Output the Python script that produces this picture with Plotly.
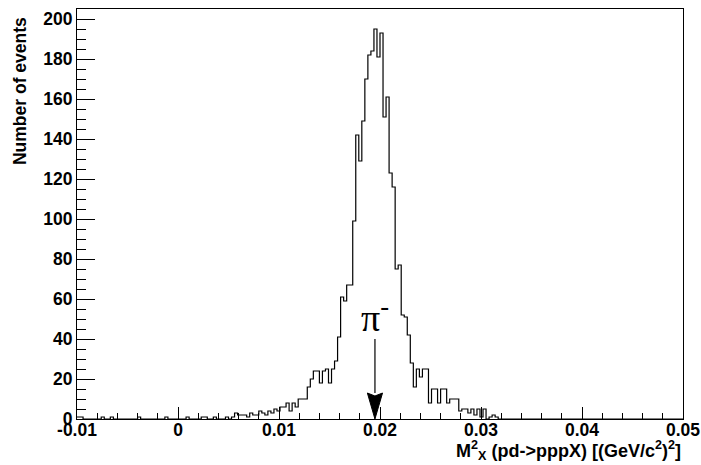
import plotly.graph_objects as go

# Histogram binning: 200 equal bins on [-0.01, 0.05] (GeV/c^2)^2
x_min, x_max, n_bins = -0.01, 0.05, 200

# Events per bin, 20 bins per row
counts = [
    1, 1, 0, 0, 0, 0, 0, 0, 1, 0, 0, 1, 0, 0, 0, 0, 0, 0, 0, 0,
    1, 0, 0, 0, 0, 0, 0, 0, 0, 1, 0, 0, 0, 0, 0, 0, 1, 0, 0, 0,
    0, 1, 1, 0, 0, 1, 0, 0, 0, 1, 0, 1, 3, 2, 2, 2, 1, 3, 2, 2,
    4, 3, 2, 4, 3, 5, 4, 6, 6, 8, 4, 8, 6, 10, 10, 10, 16, 20, 24, 24,
    18, 24, 25, 18, 25, 29, 41, 61, 59, 67, 67, 99, 142, 129, 149, 170, 182, 184, 195, 181,
    193, 151, 161, 123, 116, 75, 77, 52, 51, 42, 28, 16, 25, 21, 25, 25, 8, 15, 15, 8,
    15, 15, 8, 10, 10, 10, 4, 5, 5, 3, 5, 2, 5, 1, 5, 0, 1, 2, 1, 0,
    0, 0, 0, 0, 0, 0, 0, 0, 0, 0, 0, 0, 0, 0, 0, 0, 0, 0, 0, 0,
    0, 0, 0, 0, 0, 0, 0, 0, 0, 0, 0, 0, 0, 0, 0, 0, 0, 0, 0, 0,
    0, 0, 0, 0, 0, 0, 0, 0, 0, 0, 0, 0, 0, 0, 0, 0, 0, 0, 0, 0,
]

x_tick_values = [-0.01, 0.0, 0.01, 0.02, 0.03, 0.04, 0.05]
x_tick_labels = ["-0.01", "0", "0.01", "0.02", "0.03", "0.04", "0.05"]
y_tick_values = [0, 20, 40, 60, 80, 100, 120, 140, 160, 180, 200]
y_tick_labels = ["0", "20", "40", "60", "80", "100", "120", "140", "160", "180", "200"]

y_max = 205

# Expected pi- missing mass squared, (0.1396 GeV/c^2)^2
pi_mass_sq = 0.0195
pi_label = "\u03c0<sup>-</sup>"

x_title = "M<sup>2</sup><sub>X</sub> (pd-&gt;pppX) [(GeV/c<sup>2</sup>)<sup>2</sup>]"
y_title = "Number of events"

bin_width = (x_max - x_min) / n_bins
edges = [x_min + i * bin_width for i in range(n_bins + 1)]

font_family = "Liberation Sans, Arial, Helvetica, sans-serif"
label_font = dict(family=font_family, size=17.5, color="black", weight="bold")

fig = go.Figure()

# Step outline of the histogram
fig.add_trace(go.Scatter(
    x=edges,
    y=counts + [counts[-1]],
    mode="lines",
    line=dict(color="black", width=1.2, shape="hv"),
    hoverinfo="skip",
    showlegend=False,
))

# Arrow marking the pi- mass squared
arrow_top, head_base = 40, 13
head_half = 0.00075
fig.add_shape(type="line", xref="x", yref="y",
              x0=pi_mass_sq, x1=pi_mass_sq, y0=arrow_top, y1=head_base,
              line=dict(color="black", width=1.2))
fig.add_shape(type="path", xref="x", yref="y",
              path=(f"M {pi_mass_sq - head_half},{head_base} "
                    f"L {pi_mass_sq},{head_base - 1.5} "
                    f"L {pi_mass_sq + head_half},{head_base} "
                    f"L {pi_mass_sq},0 Z"),
              fillcolor="black", line=dict(color="black", width=1))

fig.add_annotation(
    x=pi_mass_sq, y=52, xref="x", yref="y",
    text=pi_label, showarrow=False,
    xanchor="center", yanchor="middle",
    font=dict(family="Liberation Serif, Times New Roman, serif", size=38, color="black"),
)

# Axis titles (ROOT style: right / top aligned)
fig.add_annotation(
    x=1.0, y=-0.078, xref="paper", yref="paper",
    text=x_title, showarrow=False, xanchor="right", yanchor="middle",
    font=dict(family=font_family, size=18, color="black", weight="bold"),
)
fig.add_annotation(
    x=-0.094, y=0.80, xref="paper", yref="paper",
    text=y_title, showarrow=False, xanchor="center", yanchor="middle",
    textangle=-90,
    font=dict(family=font_family, size=17.5, color="black", weight="bold"),
)

fig.update_xaxes(
    range=[x_min, x_max], automargin=False,
    tickmode="array", tickvals=x_tick_values, ticktext=x_tick_labels,
    ticks="inside", ticklen=12, tickwidth=1, tickcolor="black",
    ticklabelstandoff=-5,
    minor=dict(tickmode="linear", tick0=x_min, dtick=0.002,
               ticks="inside", ticklen=6, tickwidth=1, tickcolor="black",
               showgrid=False),
    showline=True, linecolor="black", linewidth=1, mirror=True,
    showgrid=False, zeroline=False,
    tickfont=label_font,
)
fig.update_yaxes(
    range=[0, y_max], automargin=False,
    tickmode="array", tickvals=y_tick_values, ticktext=y_tick_labels,
    ticks="inside", ticklen=18, tickwidth=1, tickcolor="black",
    minor=dict(tickmode="linear", tick0=0, dtick=5,
               ticks="inside", ticklen=9, tickwidth=1, tickcolor="black",
               showgrid=False),
    showline=True, linecolor="black", linewidth=1, mirror=True,
    showgrid=False, zeroline=False,
    tickfont=label_font,
)

fig.update_layout(
    width=701, height=465, autosize=False,
    margin=dict(l=77, r=18, t=9, b=46),
    paper_bgcolor="white", plot_bgcolor="white",
    showlegend=False,
)

fig.write_html("out.html")
